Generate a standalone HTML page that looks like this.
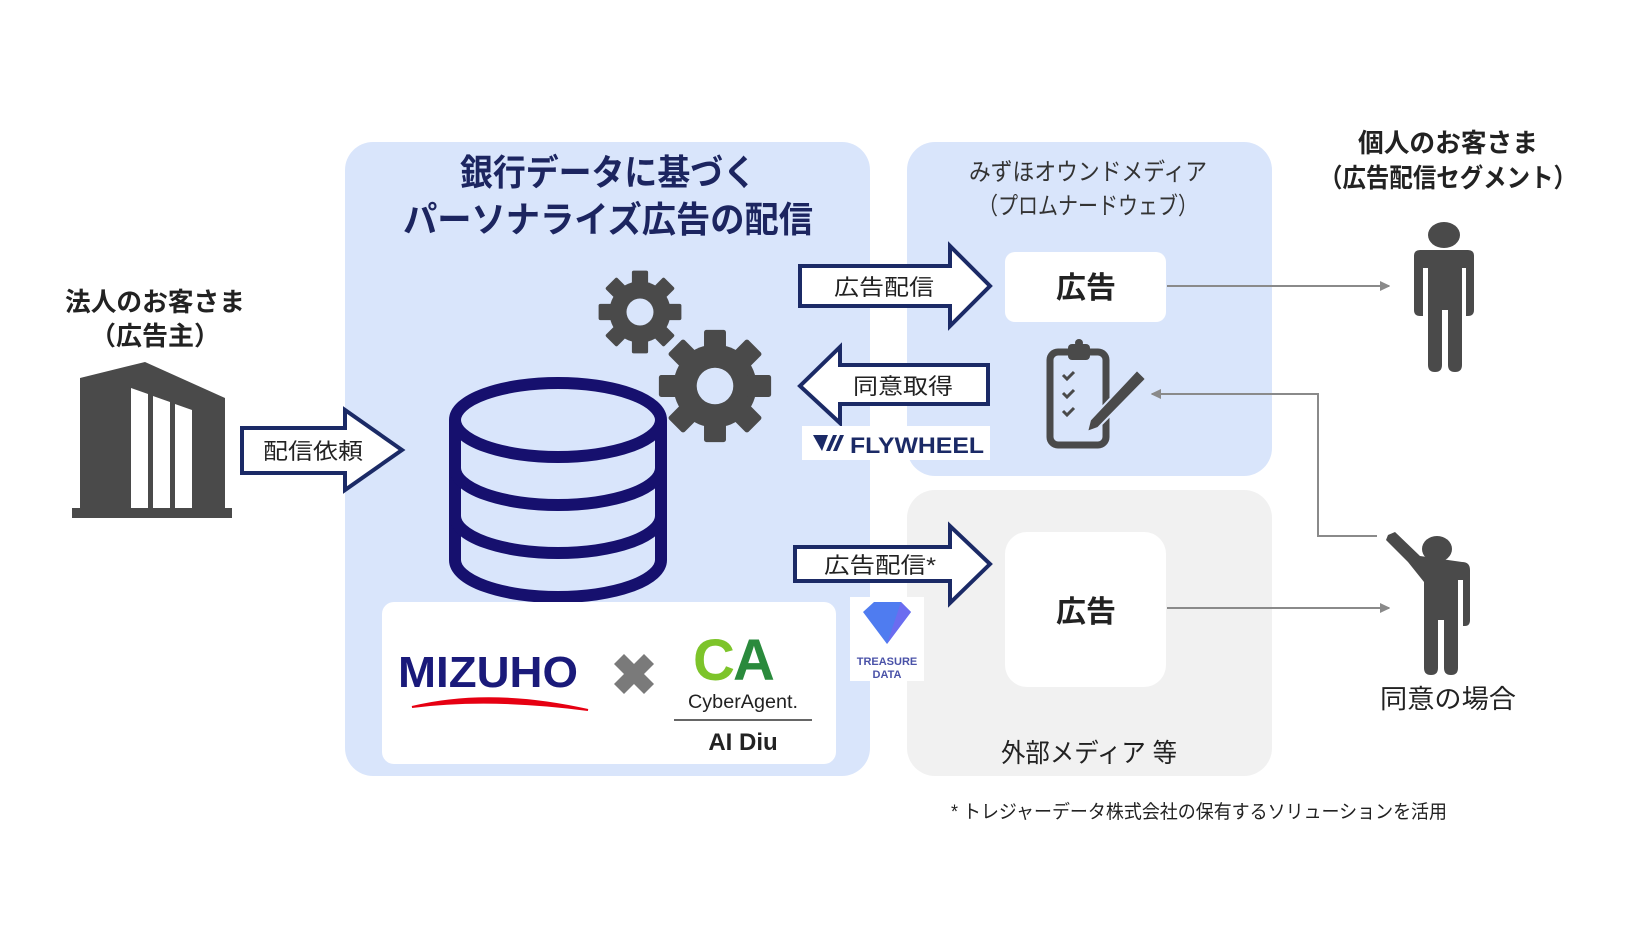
<!DOCTYPE html>
<html><head><meta charset="utf-8"><style>
html,body{margin:0;padding:0;background:#fff}
svg{display:block}
text{font-family:"Liberation Sans","Noto Sans CJK JP",sans-serif}
</style></head><body>
<svg width="1648" height="928" viewBox="0 0 1648 928" xmlns="http://www.w3.org/2000/svg">
<defs>
<marker id="ah" markerWidth="10" markerHeight="10" refX="9" refY="5" orient="auto" markerUnits="userSpaceOnUse"><path d="M0,0 L14,5 L0,10 z" fill="#8a8a8a" transform="scale(0.75,1)"/></marker>
<g id="gear">
<circle r="34" fill="#4a4a4a"/>
<g fill="#4a4a4a">
<rect x="-9" y="-46" width="18" height="20" rx="2"/>
<rect x="-9" y="-46" width="18" height="20" rx="2" transform="rotate(45)"/>
<rect x="-9" y="-46" width="18" height="20" rx="2" transform="rotate(90)"/>
<rect x="-9" y="-46" width="18" height="20" rx="2" transform="rotate(135)"/>
<rect x="-9" y="-46" width="18" height="20" rx="2" transform="rotate(180)"/>
<rect x="-9" y="-46" width="18" height="20" rx="2" transform="rotate(225)"/>
<rect x="-9" y="-46" width="18" height="20" rx="2" transform="rotate(270)"/>
<rect x="-9" y="-46" width="18" height="20" rx="2" transform="rotate(315)"/>
</g>
<circle r="15" fill="#d9e5fb"/>
</g>
</defs>

<!-- panels -->
<rect x="345" y="142" width="525" height="634" rx="28" fill="#d9e5fb"/>
<rect x="907" y="142" width="365" height="334" rx="28" fill="#d9e5fb"/>
<rect x="907" y="490" width="365" height="286" rx="28" fill="#f1f1f1"/>

<!-- titles -->
<text x="608" y="185" font-size="36" font-weight="bold" fill="#1c2560" text-anchor="middle" textLength="296" lengthAdjust="spacingAndGlyphs">銀行データに基づく</text>
<text x="608" y="232" font-size="36" font-weight="bold" fill="#1c2560" text-anchor="middle" textLength="410" lengthAdjust="spacingAndGlyphs">パーソナライズ広告の配信</text>
<text x="1088" y="180" font-size="24" fill="#333" text-anchor="middle" textLength="238" lengthAdjust="spacingAndGlyphs">みずほオウンドメディア</text>
<text x="1088" y="214" font-size="24" fill="#333" text-anchor="middle" textLength="220" lengthAdjust="spacingAndGlyphs">（プロムナードウェブ）</text>
<text x="1448" y="152" font-size="26" font-weight="bold" fill="#222" text-anchor="middle" textLength="180" lengthAdjust="spacingAndGlyphs">個人のお客さま</text>
<text x="1448" y="187" font-size="26" font-weight="bold" fill="#222" text-anchor="middle" textLength="258" lengthAdjust="spacingAndGlyphs">（広告配信セグメント）</text>
<text x="155" y="311" font-size="26" font-weight="bold" fill="#222" text-anchor="middle" textLength="180" lengthAdjust="spacingAndGlyphs">法人のお客さま</text>
<text x="155" y="345" font-size="26" font-weight="bold" fill="#222" text-anchor="middle">（広告主）</text>

<!-- building -->
<path d="M80,378 L145,362 L225,398 L225,510 L80,510 z" fill="#4a4a4a"/>
<rect x="72" y="508" width="160" height="10" fill="#4a4a4a"/>
<path d="M131,388 L148,394 L148,508 L131,508 z M153,396 L170,402 L170,508 L153,508 z M175,404 L192,410 L192,508 L175,508 z" fill="#fff"/>

<!-- arrow 配信依頼 -->
<path d="M242,428 L345,428 L345,410 L402,450 L345,490 L345,473 L242,473 z" fill="#fff" stroke="#1b2a66" stroke-width="4"/>
<text x="313" y="459" font-size="22" fill="#222" text-anchor="middle" textLength="100" lengthAdjust="spacingAndGlyphs">配信依頼</text>

<!-- DB -->
<g fill="none" stroke="#16106e" stroke-width="12">
<ellipse cx="558" cy="420" rx="103" ry="37"/>
<path d="M455,420 L455,560 A103,37 0 0 0 661,560 L661,420"/>
<path d="M455,468 A103,37 0 0 0 661,468"/>
<path d="M455,516 A103,37 0 0 0 661,516"/>
</g>

<!-- gears -->
<use href="#gear" transform="translate(640,312) scale(0.9)"/>
<use href="#gear" transform="translate(715,386) scale(1.22)"/>

<!-- arrow 広告配信 -->
<path d="M800,266 L950,266 L950,246 L990,286 L950,326 L950,306 L800,306 z" fill="#fff" stroke="#1b2a66" stroke-width="4"/>
<text x="884" y="295" font-size="22" fill="#222" text-anchor="middle" textLength="100" lengthAdjust="spacingAndGlyphs">広告配信</text>
<!-- arrow 同意取得 -->
<path d="M988,365 L840,365 L840,347 L800,386 L840,423 L840,404 L988,404 z" fill="#fff" stroke="#1b2a66" stroke-width="4"/>
<text x="903" y="394" font-size="22" fill="#222" text-anchor="middle" textLength="100" lengthAdjust="spacingAndGlyphs">同意取得</text>
<!-- FLYWHEEL -->
<rect x="802" y="426" width="188" height="34" fill="#fff"/>
<path d="M813,435 L828,435 L822,451 z M826,451 L833,435 L837,435 L830,451 z M833,451 L840,435 L844,435 L837,451 z" fill="#1b2a66"/>
<text x="850" y="453" font-size="22" font-weight="bold" fill="#1b2a66" textLength="134" lengthAdjust="spacingAndGlyphs">FLYWHEEL</text>
<!-- arrow 広告配信* -->
<path d="M795,547 L950,547 L950,526 L990,564 L950,603 L950,581 L795,581 z" fill="#fff" stroke="#1b2a66" stroke-width="4"/>
<text x="880" y="573" font-size="22" fill="#222" text-anchor="middle" textLength="112" lengthAdjust="spacingAndGlyphs">広告配信*</text>
<!-- Treasure Data -->
<rect x="850" y="597" width="74" height="84" fill="#fff"/>
<path d="M863,612 L874,602 L901,602 L911,612 L887,644 z" fill="#4f7cf0"/>
<path d="M887,644 L911,612 L901,602 z" fill="#6b6cf0"/>
<text x="887" y="665" font-size="11" font-weight="bold" fill="#4a52a8" text-anchor="middle">TREASURE</text>
<text x="887" y="678" font-size="11" font-weight="bold" fill="#4a52a8" text-anchor="middle">DATA</text>

<!-- ad boxes -->
<rect x="1005" y="252" width="161" height="70" rx="10" fill="#fff"/>
<text x="1086" y="298" font-size="30" font-weight="bold" fill="#222" text-anchor="middle">広告</text>
<rect x="1005" y="532" width="161" height="155" rx="22" fill="#fff"/>
<text x="1086" y="622" font-size="30" font-weight="bold" fill="#222" text-anchor="middle">広告</text>

<!-- clipboard -->
<rect x="1050" y="352" width="56" height="93" rx="8" fill="none" stroke="#4a4a4a" stroke-width="7"/>
<rect x="1068" y="344" width="22" height="16" rx="4" fill="#4a4a4a"/>
<circle cx="1079" cy="343" r="4" fill="#4a4a4a"/>
<g fill="none" stroke="#4a4a4a" stroke-width="3">
<path d="M1063,375 l4,4 l7,-7 M1063,393 l4,4 l7,-7 M1063,411 l4,4 l7,-7"/>
</g>
<path d="M1137,370 L1146,379 L1098,428 L1087,432 L1090,420 z" fill="#4a4a4a" stroke="#d9e5fb" stroke-width="2"/>
<text x="1089" y="762" font-size="26" fill="#222" text-anchor="middle" textLength="176" lengthAdjust="spacingAndGlyphs">外部メディア 等</text>

<!-- connectors -->
<g stroke="#8a8a8a" stroke-width="2" fill="none">
<line x1="1167" y1="286" x2="1389" y2="286" marker-end="url(#ah)"/>
<line x1="1167" y1="608" x2="1389" y2="608" marker-end="url(#ah)"/>
<polyline points="1377,536 1318,536 1318,394 1152,394" marker-end="url(#ah)"/>
</g>

<!-- person 1 -->
<g fill="#4a4a4a">
<ellipse cx="1444" cy="235" rx="16" ry="13"/>
<path d="M1414,256 Q1414,250 1420,250 L1468,250 Q1474,250 1474,256 L1474,310 Q1474,316 1468,316 L1466,316 L1466,268 L1462,268 L1462,365 Q1462,372 1455,372 Q1448,372 1448,365 L1448,310 L1442,310 L1442,365 Q1442,372 1435,372 Q1428,372 1428,365 L1428,268 L1423,268 L1423,316 L1420,316 Q1414,316 1414,310 z"/>
</g>
<!-- person 2 -->
<g fill="#4a4a4a">
<ellipse cx="1437" cy="549" rx="15" ry="13"/>
<path d="M1388,535 L1395,532 L1420,556 L1462,562 Q1470,562 1470,570 L1470,620 Q1470,626 1465,626 L1463,626 L1463,580 L1458,580 L1458,668 Q1458,675 1451,675 Q1444,675 1444,668 L1444,620 L1438,620 L1438,668 Q1438,675 1431,675 Q1424,675 1424,668 L1424,582 L1408,562 L1386,540 z"/>
</g>
<text x="1448" y="708" font-size="26" fill="#222" text-anchor="middle" textLength="136" lengthAdjust="spacingAndGlyphs">同意の場合</text>

<!-- logos box -->
<rect x="382" y="602" width="454" height="162" rx="12" fill="#fff"/>
<text x="398" y="687" font-size="44" font-weight="bold" fill="#1a1a7a" font-family="Liberation Serif, serif" textLength="180" lengthAdjust="spacingAndGlyphs">MIZUHO</text>
<path d="M412,707 Q490,688 588,710 Q490,697 412,707 z" fill="#e60012" stroke="#e60012" stroke-width="2"/>
<path d="M614,664 L624,654 L634,664 L644,654 L654,664 L644,674 L654,684 L644,694 L634,684 L624,694 L614,684 L624,674 z" fill="#7a7a7a"/>
<text x="693" y="680" font-size="58" font-weight="bold" fill="#7dc42a">C</text>
<text x="733" y="680" font-size="58" font-weight="bold" fill="#2a8a3c">A</text>
<text x="743" y="708" font-size="19" fill="#222" text-anchor="middle" textLength="110" lengthAdjust="spacingAndGlyphs">CyberAgent.</text>
<line x1="674" y1="720" x2="812" y2="720" stroke="#333" stroke-width="1.5"/>
<text x="743" y="750" font-size="24" font-weight="bold" fill="#222" text-anchor="middle">AI Diu</text>

<!-- footnote -->
<text x="951" y="818" font-size="19" fill="#222" textLength="496" lengthAdjust="spacingAndGlyphs">* トレジャーデータ株式会社の保有するソリューションを活用</text>
</svg>
</body></html>
